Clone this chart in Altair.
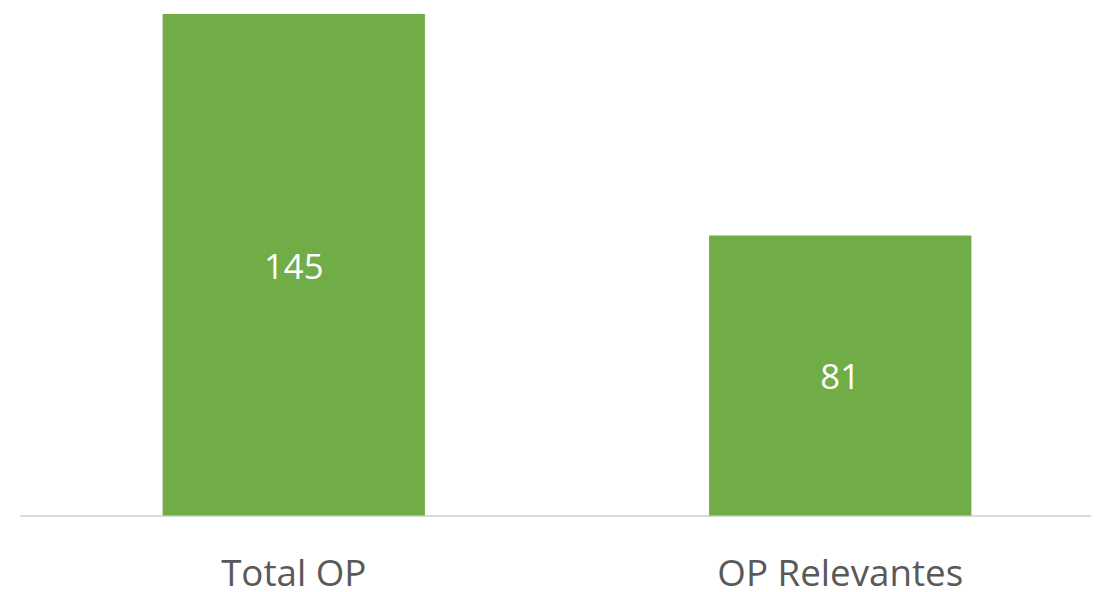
import altair as alt
import pandas as pd

categories = ["Total OP", "OP Relevantes"]
values = [145, 81]

df = pd.DataFrame({"cat": categories, "val": values})

x = alt.X("cat:N", sort=categories,
          scale=alt.Scale(paddingInner=0.52, paddingOuter=0.24, align=0.544),
          axis=alt.Axis(title=None, labelAngle=0, labelFont="Open Sans", labelFontSize=37,
                        labelColor="#595959", labelPadding=71, labelBaseline="alphabetic",
                        labelLimit=0, ticks=False,
                        domainColor="#D9D9D9", domainWidth=2))

base = alt.Chart(df).encode(x=x)

bars = base.mark_bar(color="#70AD47").encode(
    y=alt.Y("val:Q", scale=alt.Scale(domain=[0, 145], nice=False), axis=None)
)

labels = base.transform_calculate(mid="datum.val / 2").mark_text(
    color="white", font="Open Sans", fontSize=35, baseline="middle", dy=3
).encode(
    y=alt.Y("mid:Q", scale=alt.Scale(domain=[0, 145], nice=False), axis=None),
    text=alt.Text("val:Q")
)

chart = (bars + labels).properties(
    width=1079, height=505,
    padding={"left": 12, "top": 4, "right": 0, "bottom": 0},
    background="white"
).configure_view(strokeWidth=0, stroke=None)

chart.save("out.html", embed_options={"renderer": "svg", "actions": False})
